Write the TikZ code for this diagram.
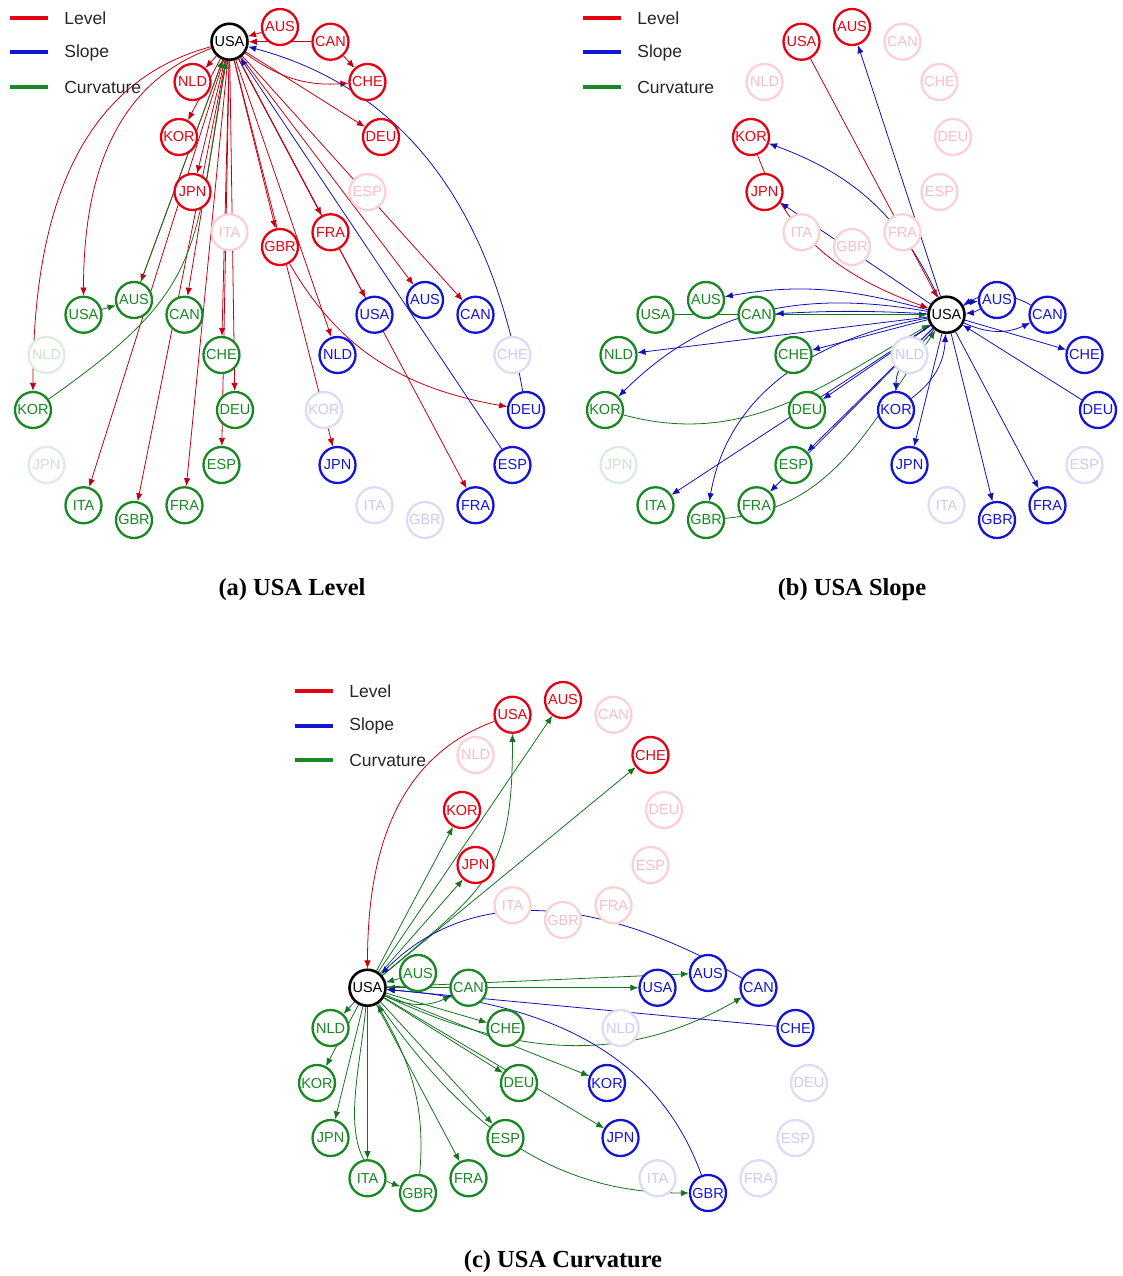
\documentclass[tikz,border=0pt]{standalone}
\usepackage{fontspec}
\setmainfont{Liberation Sans}
\newfontfamily\capfont{Liberation Serif}
\usetikzlibrary{arrows.meta}
\pgfdeclarelayer{background}
\pgfsetlayers{background,main}
\definecolor{lvcol}{RGB}{230,0,20}
\definecolor{slcol}{RGB}{20,20,215}
\definecolor{cvcol}{RGB}{25,135,35}
\tikzstyle{country}=[circle, draw, fill=white, line width=2.3pt, minimum size=36pt,
  inner sep=0pt, font=\fontsize{14.5}{16}\selectfont]
\tikzstyle{lv}=[country, draw=lvcol, text=lvcol]
\tikzstyle{lvf}=[country, draw=lvcol!18, text=lvcol!25]
\tikzstyle{sl}=[country, draw=slcol, text=slcol]
\tikzstyle{slf}=[country, draw=slcol!15, text=slcol!22]
\tikzstyle{cv}=[country, draw=cvcol, text=cvcol]
\tikzstyle{cvf}=[country, draw=cvcol!15, text=cvcol!22]
\tikzstyle{hub}=[country, draw=black, text=black, line width=2.6pt]
\tikzstyle{lvline}=[draw, line width=0.8pt, color=lvcol!85!black, -{Latex[length=8pt,width=6.5pt]}]
\tikzstyle{slline}=[lvline, color=slcol!85!black]
\tikzstyle{cvline}=[lvline, color=cvcol!85!black]
\tikzstyle{legline}=[draw, line width=4pt]
\tikzstyle{legtext}=[anchor=west, xshift=11pt, text=black!85, font=\fontsize{17.5}{20}\selectfont]
\tikzstyle{caption}=[font=\capfont\bfseries\fontsize{24.5}{28}\selectfont]
% one ring of twelve countries round a centre
\newcommand{\ring}[4]{%
  \foreach \c/\a in {#4}
    \path (#2)+({101*cos(\a)},{110*sin(\a)}) node[#3] (#1\c) {\c};}
\newcommand{\legend}[3]{%
  \path[legline, lvcol] (#2,#3) -- +(38,0) node[legtext] (#1lev) {Level};
  \path[legline, slcol] (#2,#3-34.5) -- +(38,0) node[legtext] (#1slo) {Slope};
  \path[legline, cvcol] (#2,#3-69) -- +(38,0) node[legtext] (#1cur) {Curvature};}

\begin{document}
\begin{tikzpicture}[x=1pt,y=1pt]
  \useasboundingbox (0,0) rectangle (1123,-1276);

  % (a) USA Level
  \legend{a}{10}{-18}
  \ring{aR}{280,-137}{hub}{USA/120}
  \ring{aR}{280,-137}{lv}{AUS/90,CAN/60,CHE/30,DEU/0,FRA/-60,GBR/-90,JPN/-150,KOR/180,NLD/150}
  \ring{aR}{280,-137}{lvf}{ESP/-30,ITA/-120}
  \ring{aG}{134,-410}{cv}{USA/120,AUS/90,CAN/60,CHE/30,DEU/0,ESP/-30,FRA/-60,GBR/-90,ITA/-120,KOR/180}
  \ring{aG}{134,-410}{cvf}{JPN/-150,NLD/150}
  \ring{aB}{425,-410}{sl}{USA/120,AUS/90,CAN/60,DEU/0,ESP/-30,FRA/-60,JPN/-150,NLD/150}
  \ring{aB}{425,-410}{slf}{CHE/30,GBR/-90,ITA/-120,KOR/180}
  \node[caption] (capA) at (292,-590) {(a) USA Level};

  % (b) USA Slope
  \legend{b}{583}{-18}
  \ring{bR}{852,-137}{lv}{USA/120,AUS/90,JPN/-150,KOR/180}
  \ring{bR}{852,-137}{lvf}{CAN/60,CHE/30,DEU/0,ESP/-30,FRA/-60,GBR/-90,ITA/-120,NLD/150}
  \ring{bG}{706,-410}{cv}{USA/120,AUS/90,CAN/60,CHE/30,DEU/0,ESP/-30,FRA/-60,GBR/-90,ITA/-120,KOR/180,NLD/150}
  \ring{bG}{706,-410}{cvf}{JPN/-150}
  \ring{bB}{997,-410}{hub}{USA/120}
  \ring{bB}{997,-410}{sl}{AUS/90,CAN/60,CHE/30,DEU/0,FRA/-60,GBR/-90,JPN/-150,KOR/180}
  \ring{bB}{997,-410}{slf}{ESP/-30,ITA/-120,NLD/150}
  \node[caption] (capB) at (852,-590) {(b) USA Slope};

  % (c) USA Curvature
  \legend{c}{295}{-691}
  \ring{cR}{563,-810}{lv}{USA/120,AUS/90,CHE/30,JPN/-150,KOR/180}
  \ring{cR}{563,-810}{lvf}{CAN/60,DEU/0,ESP/-30,FRA/-60,GBR/-90,ITA/-120,NLD/150}
  \ring{cG}{418,-1083}{hub}{USA/120}
  \ring{cG}{418,-1083}{cv}{AUS/90,CAN/60,CHE/30,DEU/0,ESP/-30,FRA/-60,GBR/-90,ITA/-120,JPN/-150,KOR/180,NLD/150}
  \ring{cB}{708,-1083}{sl}{USA/120,AUS/90,CAN/60,CHE/30,GBR/-90,JPN/-150,KOR/180}
  \ring{cB}{708,-1083}{slf}{DEU/0,ESP/-30,FRA/-60,ITA/-120,NLD/150}
  \node[caption] (capC) at (563,-1262) {(c) USA Curvature};

  \begin{pgfonlayer}{background}
    % links of panel (a)
    \foreach \t in {aRNLD,aRKOR,aRJPN,aRGBR,aRFRA,aRDEU,aGAUS,aGCAN,aGCHE,aGDEU,
      aGESP,aGITA,aGGBR,aGFRA,aBUSA,aBAUS,aBCAN,aBNLD,aBJPN,aBFRA}
      \path[lvline] (aRUSA) -- (\t);
    \path[lvline] (aRUSA) to[bend right=20] (aRCHE);
    \path[lvline] (aRUSA) to[out=200,in=90] (aGUSA);
    \path[lvline] (aRUSA) to[out=195,in=90] (aGKOR);
    \path[lvline] (aRAUS) -- (aRUSA);
    \path[lvline] (aRCAN) -- (aRUSA);
    \path[lvline] (aRCAN) -- (aRCHE);
    \path[lvline] (aRGBR) to[out=-60,in=170] (aBDEU);
    \path[slline] (aBDEU) to[out=100,in=-15] (aRUSA);
    \path[slline] (aBESP) -- (aRUSA);
    \path[cvline] (aGKOR) to[out=35,in=-100,looseness=1.3] (aRUSA);
    \path[cvline] (aGAUS) -- (aRUSA);
    \path[cvline] (aGUSA) -- (aGAUS);

    % links of panel (b)
    \path[cvline] (bGUSA) -- (bBUSA);
    \path[cvline] (bGKOR) to[out=-15,in=210] (bBUSA);
    \path[cvline] (bGGBR) to[out=5,in=235] (bBUSA);
    \foreach \t in {bRAUS,bRJPN,bGNLD,bGCHE,bGDEU,bGITA,bGESP,bGFRA,bBCHE,bBGBR,bBFRA,bBJPN}
      \path[slline] (bBUSA) -- (\t);
    \path[slline] (bBUSA) to[bend right=3] (bGCAN);
    \path[slline] (bBUSA) to[out=115,in=-20] (bRKOR);
    \path[slline] (bBUSA) to[out=165,in=10] (bGAUS);
    \path[slline] (bBUSA) to[out=170,in=45] (bGKOR);
    \path[slline] (bBUSA) to[out=190,in=80] (bGGBR);
    \path[slline] (bBUSA) to[bend left=12] (bBAUS);
    \path[slline] (bBAUS) to[bend left=12] (bBUSA);
    \path[slline] (bBCAN) to[bend right=30] (bBUSA);
    \path[slline] (bBUSA) to[bend right=25] (bBCAN);
    \path[slline] (bBDEU) -- (bBUSA);
    \path[slline] (bBUSA) to[out=-130,in=90] (bBKOR);
    \path[slline] (bBKOR) to[bend right=25] (bBUSA);
    \path[lvline] (bRUSA) -- (bBUSA);
    \path[lvline] (bRKOR) to[out=-70,in=160] (bBUSA);

    % links of panel (c)
    \foreach \t in {cRAUS,cRKOR,cRJPN,cRCHE,cBUSA,cBAUS,cBKOR,cBJPN,cGNLD,cGKOR,
      cGJPN,cGITA,cGFRA,cGESP,cGDEU,cGCHE}
      \path[cvline] (cGUSA) -- (\t);
    \path[cvline] (cGUSA) to[out=40,in=-90,looseness=1.3] (cRUSA);
    \path[cvline] (cGUSA) to[out=-25,in=210] (cBCAN);
    \path[cvline] (cGUSA) to[out=-55,in=180] (cBGBR);
    \path[cvline] (cGUSA) to[out=-95,in=160] (cGGBR);
    \path[cvline] (cGGBR) to[out=85,in=-60] (cGUSA);
    \path[cvline] (cGAUS) -- (cGUSA);
    \path[cvline] (cGCAN) -- (cGUSA);
    \path[cvline] (cGUSA) to[bend right=25] (cGCAN);
    \path[lvline] (cRUSA) to[out=200,in=90] (cGUSA);
    \path[slline] (cBCAN) to[out=150,in=45] (cGUSA);
    \path[slline] (cBCHE) -- (cGUSA);
    \path[slline] (cBGBR) to[out=110,in=-5] (cGUSA);
  \end{pgfonlayer}
\end{tikzpicture}
\end{document}
